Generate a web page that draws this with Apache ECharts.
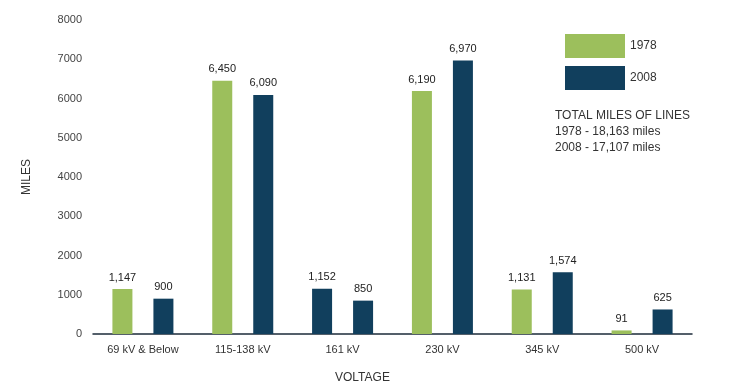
<!DOCTYPE html>
<html>
<head>
<meta charset="utf-8">
<script src="https://cdn.jsdelivr.net/npm/echarts@6/dist/echarts.min.js"></script>
<style>html,body{margin:0;padding:0;background:#fff}#c{width:754px;height:388px}</style>
</head>
<body>
<div id="c"></div>
<script>
const categories = ["69 kV & Below", "115-138 kV", "161 kV", "230 kV", "345 kV", "500 kV"];
const series1978 = [1147, 6450, 1152, 6190, 1131, 91];
const series2008 = [900, 6090, 850, 6970, 1574, 625];
const yTicks = [0, 1000, 2000, 3000, 4000, 5000, 6000, 7000, 8000];
const totalsText = ["TOTAL MILES OF LINES", "1978 - 18,163 miles", "2008 - 17,107 miles"];

const GREEN = '#9cbf5c', NAVY = '#113f5d';
const chart = echarts.init(document.getElementById('c'), null, {renderer: 'canvas'});
const fmt = v => v.toLocaleString('en-US');
chart.setOption({
  animation: false,
  textStyle: {fontFamily: 'Liberation Sans, Arial, sans-serif'},
  title: {text: 'MILES OF TRANSMISSION LINES BY VOLTAGE', left: 'center', top: -16,
    textStyle: {fontSize: 14, fontWeight: 'normal', color: '#555'}},
  legend: {
    data: ['1978', '2008'], orient: 'vertical', left: 560, top: 29, icon: 'rect',
    itemWidth: 60, itemHeight: 24, itemGap: 8,
    textStyle: {fontSize: 12, color: '#333'}
  },
  grid: {left: 93, right: 62, top: 20, bottom: 54},
  xAxis: {
    type: 'category', data: categories,
    axisLine: {lineStyle: {color: '#1d2b3a', width: 1.5}},
    axisTick: {inside: true, length: 5, lineStyle: {color: '#1d2b3a'}},
    axisLabel: {fontSize: 11, color: '#333', margin: 10, interval: 0}
  },
  yAxis: {
    type: 'value', min: yTicks[0], max: yTicks[yTicks.length - 1], interval: 1000,
    name: 'MILES', nameLocation: 'middle', nameGap: 60, nameRotate: 90,
    nameTextStyle: {fontSize: 12, color: '#333'},
    axisLine: {show: false}, axisTick: {show: false}, splitLine: {show: false},
    axisLabel: {fontSize: 11, color: '#444', margin: 11, formatter: v => String(v)}
  },
  series: [
    {name: '1978', type: 'bar', barWidth: 20, barGap: '105%',
      itemStyle: {color: GREEN},
      data: series1978.map((v, i) => i === 2 ? {value: v, itemStyle: {color: NAVY}} : v),
      label: {show: true, position: 'top', fontSize: 11, color: '#222', distance: 6,
        formatter: p => fmt(p.value)}},
    {name: '2008', type: 'bar', barWidth: 20,
      itemStyle: {color: NAVY}, data: series2008,
      label: {show: true, position: 'top', fontSize: 11, color: '#222', distance: 6,
        formatter: p => fmt(p.value)}}
  ],
  graphic: [
    {type: 'text', left: 555, top: 108, style: {text: totalsText.join('\n'), fontSize: 12, lineHeight: 16, fill: '#333', fontFamily: 'Liberation Sans, Arial, sans-serif'}},
    {type: 'text', left: 335, top: 372, style: {text: 'VOLTAGE', fontSize: 12, fill: '#333', fontFamily: 'Liberation Sans, Arial, sans-serif'}}
  ]
});
</script>
</body>
</html>
